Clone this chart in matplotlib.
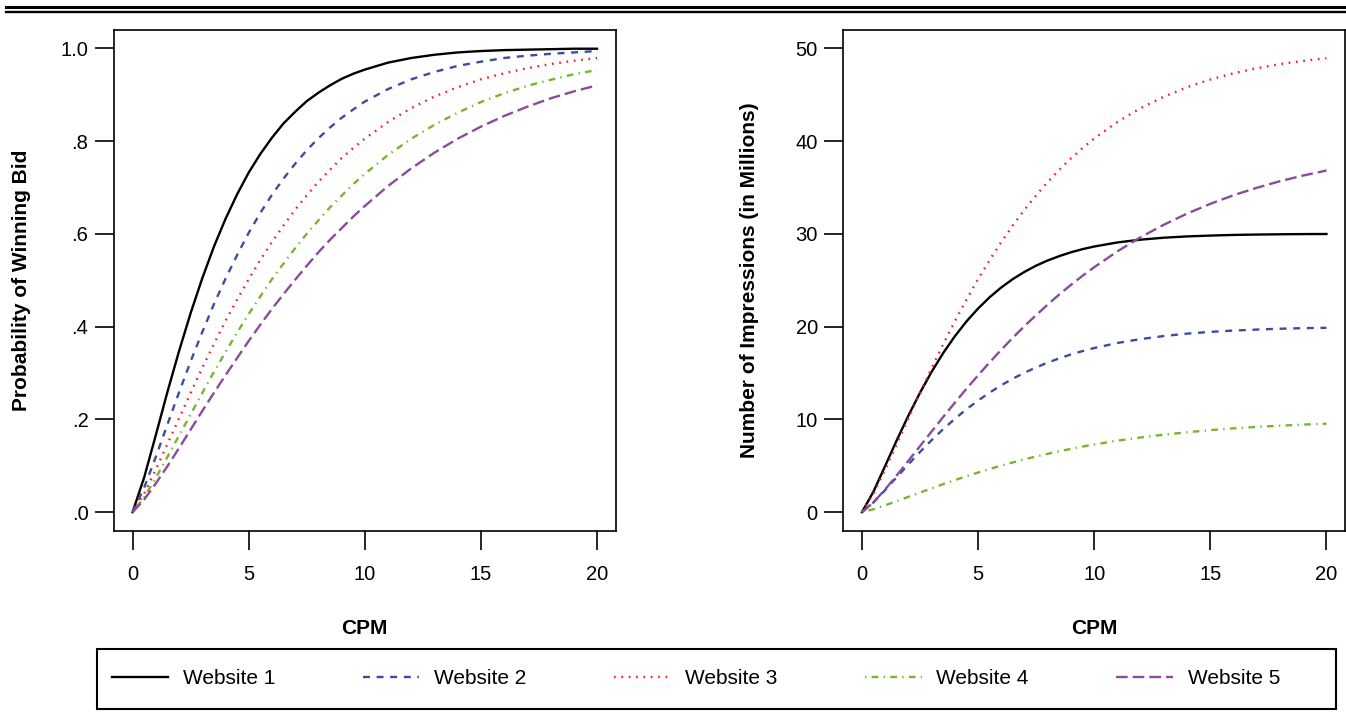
import matplotlib
matplotlib.use("Agg")
import matplotlib.pyplot as plt
from matplotlib.lines import Line2D
from matplotlib.patches import Rectangle

plt.rcParams['font.family'] = ['Liberation Sans', 'DejaVu Sans']
plt.rcParams['lines.scale_dashes'] = False

# CPM values (x axis)
cpm = [0, 0.5, 1, 1.5, 2, 2.5, 3, 3.5, 4, 4.5, 5, 5.5, 6, 6.5, 7, 7.5, 8, 8.5,
       9, 9.5, 10, 11, 12, 13, 14, 15, 16, 17, 18, 19, 20]

# probability of winning bid
prob_w1 = [0, .075, .166, .259, .347, .429, .504, .572, .632, .685, .732, .772,
           .807, .838, .863, .886, .904, .920, .934, .945, .954, .969, .979,
           .986, .991, .994, .996, .997, .998, .999, .999]
prob_w2 = [0, .053, .119, .189, .258, .325, .388, .448, .503, .554, .602, .645,
           .684, .719, .751, .780, .806, .829, .850, .868, .885, .912, .933,
           .949, .962, .971, .979, .984, .988, .991, .994]
prob_w3 = [0, .040, .092, .147, .202, .257, .311, .362, .412, .458, .502, .544,
           .582, .618, .652, .683, .712, .738, .763, .785, .805, .841, .871,
           .896, .916, .933, .946, .957, .966, .973, .979]
prob_w4 = [0, .032, .074, .119, .165, .211, .257, .302, .345, .387, .427, .465,
           .502, .536, .569, .600, .629, .657, .682, .707, .729, .770, .805,
           .835, .861, .884, .903, .919, .932, .944, .953]
prob_w5 = [0, .027, .062, .099, .138, .178, .218, .257, .295, .332, .369, .404,
           .438, .470, .501, .531, .560, .587, .612, .637, .660, .703, .741,
           .775, .805, .831, .854, .874, .892, .907, .920]

# number of impressions (millions)
imp_w1 = [0, 2.24, 4.99, 7.76, 10.41, 12.88, 15.13, 17.16, 18.96, 20.56, 21.95,
          23.17, 24.22, 25.13, 25.90, 26.57, 27.13, 27.60, 28.01, 28.35, 28.63,
          29.07, 29.37, 29.58, 29.72, 29.81, 29.88, 29.92, 29.95, 29.97, 29.98]
imp_w2 = [0, 1.06, 2.39, 3.78, 5.16, 6.49, 7.76, 8.95, 10.06, 11.09, 12.03,
          12.89, 13.68, 14.39, 15.03, 15.60, 16.12, 16.58, 17.00, 17.36, 17.69,
          18.23, 18.66, 18.98, 19.24, 19.43, 19.57, 19.68, 19.77, 19.83, 19.87]
imp_w3 = [0, 2.02, 4.60, 7.34, 10.12, 12.86, 15.54, 18.12, 20.58, 22.91, 25.12,
          27.18, 29.12, 30.92, 32.60, 34.15, 35.59, 36.91, 38.13, 39.25, 40.27,
          42.06, 43.55, 44.78, 45.80, 46.63, 47.30, 47.85, 48.29, 48.64, 48.93]
imp_w4 = [0, 0.32, 0.74, 1.19, 1.65, 2.11, 2.57, 3.02, 3.45, 3.87, 4.27, 4.65,
          5.02, 5.36, 5.69, 6.00, 6.29, 6.57, 6.82, 7.07, 7.29, 7.70, 8.05, 8.35,
          8.61, 8.84, 9.03, 9.19, 9.32, 9.44, 9.53]
imp_w5 = [0, 1.07, 2.46, 3.97, 5.54, 7.12, 8.70, 10.27, 11.80, 13.30, 14.75,
          16.15, 17.51, 18.81, 20.06, 21.24, 22.38, 23.47, 24.50, 25.48, 26.40,
          28.11, 29.64, 30.98, 32.18, 33.23, 34.16, 34.96, 35.67, 36.28, 36.82]

labels = ['Website 1', 'Website 2', 'Website 3', 'Website 4', 'Website 5']
colors = ['black', '#3C4DA0', '#EE1C25', '#76B72A', '#8B4A9E']
styles = ['-', (0, (5.0, 4.8)), (0, (1.2, 4.1)), (0, (1.0, 3.8, 4.8, 3.8)),
          (0, (8.4, 3.6))]

prob = [prob_w1, prob_w2, prob_w3, prob_w4, prob_w5]
imp = [imp_w1, imp_w2, imp_w3, imp_w4, imp_w5]

W, H = 1346, 720
fig = plt.figure(figsize=(W / 100, H / 100), dpi=100)
ax1 = fig.add_axes([114 / W, 1 - 530.7 / H, 501.6 / W, 501 / H])
ax2 = fig.add_axes([843.4 / W, 1 - 530.7 / H, 501.6 / W, 501 / H])

for ax, data in [(ax1, prob), (ax2, imp)]:
    for y, c, ls, lab in zip(data, colors, styles, labels):
        ax.plot(cpm, y, color=c, linestyle=ls, lw=1.7, label=lab)
    ax.set_xlim(-0.8, 20.8)
    ax.set_xticks([0, 5, 10, 15, 20])
    ax.tick_params(direction='out', length=13.4, width=1.2, labelsize=14.5,
                   top=False, right=False)
    ax.tick_params(axis='x', pad=11)
    ax.tick_params(axis='y', pad=5)
    for s in ax.spines.values():
        s.set_linewidth(1.2)
    ax.set_xlabel('CPM', fontsize=15, fontweight='bold')
    ax.xaxis.set_label_coords(0.5, -0.176)

ax1.set_ylim(-0.04, 1.04)
ax1.set_yticks([0, .2, .4, .6, .8, 1.0])
ax1.set_yticklabels(['.0', '.2', '.4', '.6', '.8', '1.0'])
ax1.set_ylabel('Probability of Winning Bid', fontsize=15, fontweight='bold',
               va='center')
ax1.yaxis.set_label_coords(-0.185, 0.5)

ax2.set_ylim(-2, 52)
ax2.set_yticks([0, 10, 20, 30, 40, 50])
ax2.set_ylabel('Number of Impressions (in Millions)', fontsize=15,
               fontweight='bold', va='center')
ax2.yaxis.set_label_coords(-0.188, 0.5)

# double rule at the top
fig.add_artist(Line2D([6 / W, 1], [1 - 7.3 / H] * 2, color='black', lw=2.2,
                      transform=fig.transFigure))
fig.add_artist(Line2D([6 / W, 1], [1 - 11.6 / H] * 2, color='black', lw=1.7,
                      transform=fig.transFigure))

# legend box across the bottom
fig.add_artist(Rectangle((96.5 / W, 11 / H), 1239.5 / W, 60 / H, fill=False,
                         lw=1.5, edgecolor='black', transform=fig.transFigure))
handles, labs = ax1.get_legend_handles_labels()
fig.legend(handles, labs, loc='center left', bbox_to_anchor=(112 / W, 41 / H),
           ncol=5, frameon=False, fontsize=15, borderpad=0, borderaxespad=0,
           handlelength=2.7, handletextpad=0.72, columnspacing=4.2)

fig.savefig('out.png', dpi=100)
